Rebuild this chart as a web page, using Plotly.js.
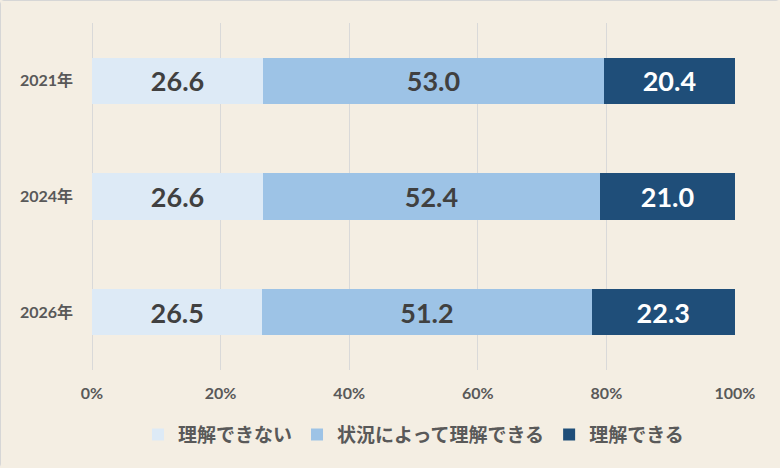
<!DOCTYPE html>
<html>
<head>
<meta charset="utf-8">
<script src="https://cdn.plot.ly/plotly-3.0.1.min.js"></script>
<style>
  html, body { margin: 0; padding: 0; background: #F4EEE3; }
  #chart { width: 780px; height: 468px; box-sizing: border-box; border: 1px solid #D6D6D6; border-radius: 4px; }
</style>
</head>
<body>
<div id="chart"></div>
<script>
// 各年の回答割合（%）
const years = ['2021年', '2024年', '2026年'];
const cannot = [26.6, 26.6, 26.5];
const depends = [53.0, 52.4, 51.2];
const can = [20.4, 21.0, 22.3];

const seriesNames = ['理解できない', '状況によって理解できる', '理解できる'];
const seriesColors = ['#DDEAF6', '#9DC3E6', '#1F4E79'];
const textColors = ['#404040', '#404040', '#FFFFFF'];

const font = 'Lato, "Noto Sans CJK JP", sans-serif';

const data = [cannot, depends, can].map(function (vals, i) {
  return {
    type: 'bar',
    orientation: 'h',
    name: seriesNames[i],
    y: years,
    x: vals,
    marker: { color: seriesColors[i] },
    text: vals.map(v => v.toFixed(1)),
    textposition: 'inside',
    insidetextanchor: 'middle',
    textfont: { family: font, size: 27, color: textColors[i], weight: 'bold' },
    hoverinfo: 'x+name'
  };
});

const layout = {
  barmode: 'stack',
  bargap: 0.6,
  paper_bgcolor: '#F4EEE3',
  plot_bgcolor: '#F4EEE3',
  margin: { l: 91, r: 46, t: 22, b: 99 },
  font: { family: font, color: '#595959' },
  xaxis: {
    range: [0, 100],
    dtick: 20,
    ticksuffix: '%',
    showgrid: true,
    gridcolor: '#D9D9D9',
    zeroline: true,
    zerolinecolor: '#D9D9D9',
    tickfont: { size: 16, color: '#595959', weight: 'bold' },
    ticklen: 0,
    ticklabelstandoff: 12,
    fixedrange: true
  },
  yaxis: {
    autorange: 'reversed',
    showgrid: false,
    tickfont: { size: 16, color: '#595959', weight: 'bold' },
    ticklabelstandoff: 18,
    fixedrange: true
  },
  legend: {
    orientation: 'h',
    x: 0.5,
    xanchor: 'center',
    y: -0.186,
    yanchor: 'middle',
    font: { size: 19, color: '#595959', weight: 'bold' },
    traceorder: 'normal',
    itemwidth: 20
  },
  showlegend: true
};

Plotly.newPlot('chart', data, layout, { displayModeBar: false, staticPlot: true });
</script>
</body>
</html>
